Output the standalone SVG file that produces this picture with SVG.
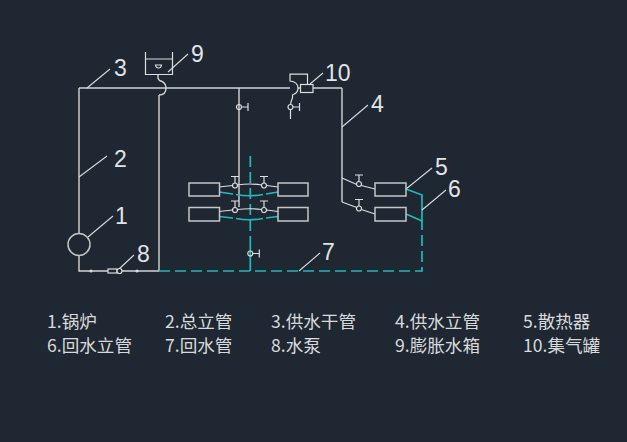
<svg xmlns="http://www.w3.org/2000/svg" width="627" height="442" viewBox="0 0 627 442">
<style>
.p{fill:none;stroke:#d2d4d6;stroke-width:1.4}
.r{fill:none;stroke:#c4c6c8;stroke-width:1.5}
.l{fill:none;stroke:#d8dadc;stroke-width:1.1}
.t{fill:none;stroke:#1fbcbc;stroke-width:1.7}
.d{stroke-dasharray:11 5}
.v{fill:none;stroke:#dcdee0;stroke-width:1.2}
text{font-family:"Liberation Sans","Noto Sans CJK SC",sans-serif;fill:#e2e4e6}
.n{font-size:23px}
.c{font-family:"Noto Sans CJK SC","Liberation Sans",sans-serif;font-size:17.600px;fill:#d8dadc}
</style>
<defs>
<g id="vu"><circle class="v" cx="0" cy="0" r="2.5"/><path class="v" d="M0-2.5V-9M-4-9H4"/></g>
<g id="vr"><circle class="v" cx="0" cy="0" r="2.5"/><path class="v" d="M2.5 0H9M9-4V4"/></g>
</defs>
<rect width="627" height="442" fill="#1f2732"/>
<g id="connectors">
<path class="p" d="M159 88H290M298 88H342M79 233V88M239 88V207M342 88V202M159 95V271M79 255.500V271H159"/>
<path class="p" d="M158 74V78Q159 81 161 81Q166 83 166 88Q166 95 159 95" />
<path class="p" d="M79 88H159"/>
<path class="t d" d="M159 271H422V221"/>
<path class="t d" d="M250.300 156V240"/>
<path class="t" d="M250.300 240V271"/>
<path class="t" d="M406 189L422 195V221M406 214L422 221"/>
<path class="v" d="M342 178L356.800 184.500M361.300 185.500L375 189M342 202L356.800 207.500M361.300 209.500L375 214"/>
<path class="v" d="M219 187L232.500 185.500M237.500 185Q250 183 261.500 185M266.500 185.500L278 187M219 211.500L232.500 210M237.500 209.500Q250 208 261.500 209.500M266.500 210L278 211.500"/>
<path class="t" d="M219 192L233 194M236 194.500Q250 197 263 194.500M266 194L278 192M219 216.500L233 218M236 218.500Q250 221 263 218.500M266 218L278 216.500"/>
<path class="l" d="M88 237L113 216M79 177L107 156M87 88L110 69M168 72L188 54M310 84L323 73M342 127L368 105M406 189L432 168M422 210L446 190M299 271L320 253M119 269L134 255"/>
</g>
<g id="n1"><circle class="r" cx="79" cy="244.500" r="11"/><text class="n" x="115" y="224">1</text></g>
<g id="n2"><text class="n" x="114" y="167">2</text></g>
<g id="n3"><text class="n" x="114" y="76">3</text></g>
<g id="n4"><text class="n" x="371" y="112">4</text></g>
<g id="n5">
<rect class="r" x="375" y="183" width="31" height="13"/><rect class="r" x="375" y="207.500" width="31" height="13.500"/>
<use href="#vu" x="359" y="184"/><use href="#vu" x="359" y="208.500"/>
<text class="n" x="435" y="175">5</text></g>
<g id="radiators-mid">
<rect class="r" x="189" y="183" width="30.500" height="13"/><rect class="r" x="189" y="207.500" width="30.500" height="13.500"/>
<rect class="r" x="278" y="183" width="30" height="13"/><rect class="r" x="278" y="207.500" width="30" height="13.500"/>
<use href="#vu" x="235" y="185.500"/><use href="#vu" x="264" y="185.500"/><use href="#vu" x="235" y="210"/><use href="#vu" x="264" y="210"/>
<use href="#vr" x="250.300" y="253.500"/><use href="#vr" x="239" y="107"/>
</g>
<g id="n6"><text class="n" x="448" y="197">6</text></g>
<g id="n7"><text class="n" x="322" y="260">7</text></g>
<g id="n8"><rect class="v" x="108" y="269" width="9" height="4" fill="#1f2732" style="fill:#1f2732"/><circle class="v" cx="119.500" cy="271" r="2.500" style="fill:#1f2732"/>
<circle cx="91" cy="271" r="1.500" fill="#d8dadc"/><circle cx="137" cy="271" r="1.500" fill="#d8dadc"/>
<text class="n" x="137" y="262">8</text></g>
<g id="n9"><path class="v" d="M145.500 52V74.500H172.500V52M145.500 59H172.500"/><path class="v" d="M155.500 65H161.500Q161 68 158.500 68Q156 68 155.500 65Z"/>
<text class="n" x="191" y="62">9</text></g>
<g id="n10"><path class="v" d="M307.500 84V74.200H290V81Q298 82 298 88Q298 93 292.500 95V98Q291 101 290.500 104.500M290.500 109.500V119"/>
<rect class="v" x="300.500" y="84.500" width="12.500" height="8" style="fill:#1f2732"/>
<use href="#vr" x="290.500" y="107"/>
<text class="n" x="325" y="81">10</text></g>
<g id="legend">
<text class="c" x="47" y="328">1.锅炉</text>
<text class="c" x="165" y="328">2.总立管</text>
<text class="c" x="271" y="328">3.供水干管</text>
<text class="c" x="395" y="328">4.供水立管</text>
<text class="c" x="523" y="328">5.散热器</text>
<text class="c" x="47" y="352">6.回水立管</text>
<text class="c" x="165" y="352">7.回水管</text>
<text class="c" x="271" y="352">8.水泵</text>
<text class="c" x="395" y="352">9.膨胀水箱</text>
<text class="c" x="523" y="352">10.集气罐</text>
</g>
</svg>
